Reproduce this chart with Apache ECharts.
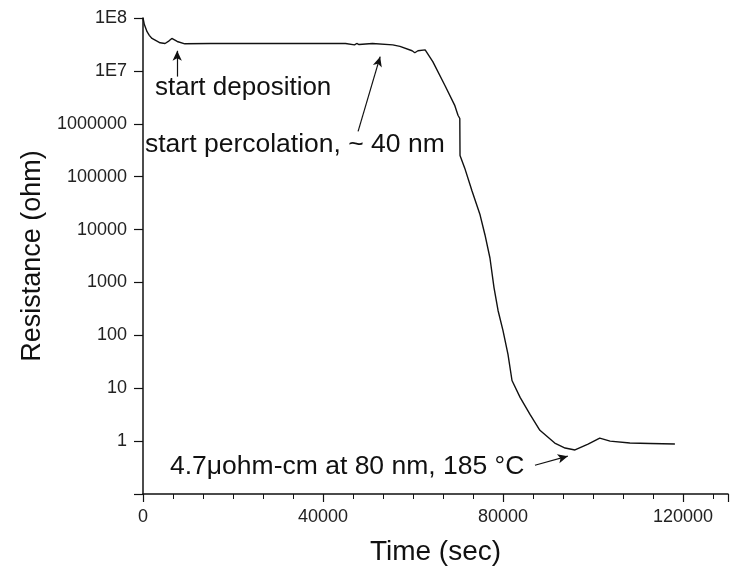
<!DOCTYPE html>
<html>
<head>
<meta charset="utf-8">
<script src="https://cdn.jsdelivr.net/npm/echarts@6/dist/echarts.min.js"></script>
<style>
  html, body { margin: 0; padding: 0; background: #fff; }
  #main { width: 736px; height: 571px; }
</style>
</head>
<body>
<div id="main"></div>
<script>
// time (sec)
const times = [0, 300, 900, 1400, 2000, 3800, 4900, 5800, 6400, 7600, 9300, 15000, 25000, 35000,
  45000, 47000, 47500, 48000, 51000, 55500, 57100, 59800, 60400, 61100, 62700, 64400, 67100,
  69300, 70000, 70400, 70450, 71500, 73100, 74900, 76000, 77100, 78000, 78900, 80000, 81100,
  82000, 83800, 86000, 88200, 91500, 93800, 96000, 98900, 101500, 103800, 108200, 112700, 118200];
// resistance (ohm)
const resistance = [1.0e8, 7.5e7, 5.5e7, 4.7e7, 4.1e7, 3.4e7, 3.3e7, 3.7e7, 4.1e7, 3.6e7, 3.25e7, 3.3e7, 3.3e7, 3.3e7,
  3.3e7, 3.1e7, 3.3e7, 3.15e7, 3.3e7, 3.1e7, 2.9e7, 2.4e7, 2.2e7, 2.4e7, 2.5e7, 1.5e7, 5.3e6,
  2.2e6, 1.45e6, 1.26e6, 2.5e5, 1.45e5, 5.4e4, 1.9e4, 7.9e3, 2.9e3, 800, 295, 123, 44,
  14, 6.7, 3.2, 1.6, 0.92, 0.74, 0.68, 0.88, 1.14, 1.0, 0.92, 0.9, 0.88];

// annotation arrows: [from, to] in data coords
const arrows = [
  [[7600, 7.8e6], [7600, 2.4e7]],
  [[47800, 7.2e5], [52700, 1.86e7]],
  [[87100, 0.35], [94400, 0.52]]
];

const FONT = '"Liberation Sans", Arial, sans-serif';

const chart = echarts.init(document.getElementById('main'));

chart.setOption({
  animation: false,
  backgroundColor: '#fff',
  grid: { left: 143, right: 8, top: 18, bottom: 76 },
  xAxis: {
    type: 'value',
    min: 0,
    max: 130000,
    interval: 40000,
    name: 'Time (sec)',
    nameLocation: 'middle',
    nameGap: 44,
    nameTextStyle: { fontFamily: FONT, fontSize: 28, color: '#111' },
    axisLine: { lineStyle: { color: '#111', width: 1.5 } },
    axisTick: { length: 8, lineStyle: { color: '#111', width: 1.2 } },
    minorTick: { show: true, splitNumber: 6, length: 5, lineStyle: { color: '#111', width: 1 } },
    axisLabel: {
      fontFamily: FONT, fontSize: 18, color: '#222', margin: 14,
      formatter: v => String(v)
    },
    splitLine: { show: false }
  },
  yAxis: {
    type: 'log',
    logBase: 10,
    min: 0.1,
    max: 1e8,
    name: 'Resistance (ohm)',
    nameLocation: 'middle',
    nameGap: 93,
    nameTextStyle: { fontFamily: FONT, fontSize: 27, color: '#111' },
    axisLine: { show: true, lineStyle: { color: '#111', width: 1.5 } },
    axisTick: { length: 9, lineStyle: { color: '#111', width: 1.2 } },
    axisLabel: {
      fontFamily: FONT, fontSize: 18, color: '#222', margin: 16,
      formatter: function (v) {
        if (v < 1) return '';
        if (v >= 1e7) return '1E' + Math.round(Math.log10(v));
        return String(Math.round(v));
      }
    },
    splitLine: { show: false }
  },
  series: [
    {
      type: 'line',
      data: times.map((t, i) => [t, resistance[i]]),
      showSymbol: false,
      lineStyle: { color: '#111', width: 1.4 },
      markLine: {
        silent: true,
        symbol: ['none', 'arrow'],
        symbolSize: [7, 10],
        label: { show: false },
        lineStyle: { color: '#111', width: 1.2, type: 'solid' },
        data: arrows.map(a => [{ coord: a[0] }, { coord: a[1] }])
      }
    }
  ],
  graphic: [
    { type: 'text', left: 155, top: 75, style: { text: 'start deposition', fontFamily: FONT, fontSize: 26, fill: '#111' } },
    { type: 'text', left: 145, top: 131, style: { text: 'start percolation, ~ 40 nm', fontFamily: FONT, fontSize: 26.5, fill: '#111' } },
    { type: 'text', left: 170, top: 453, style: { text: '4.7\u03bcohm-cm at 80 nm, 185 \u00b0C', fontFamily: FONT, fontSize: 26.5, fill: '#111' } }
  ]
});
</script>
</body>
</html>
